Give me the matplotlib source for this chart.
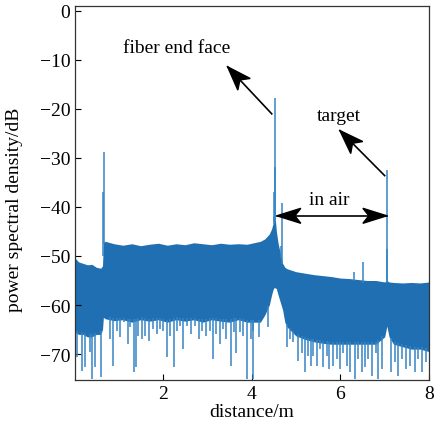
import numpy as np
import matplotlib
matplotlib.use("Agg")
import matplotlib.pyplot as plt
from matplotlib.patches import Polygon
from matplotlib.transforms import IdentityTransform

plt.rcParams['font.family'] = ['Liberation Serif', 'DejaVu Serif']
fontsize = 14

# envelope of the dense noise band (distance in m, level in dB)
band_x = [0.02, 0.1, 0.2, 0.3, 0.4, 0.5, 0.6, 0.64,
          0.66, 0.7, 0.9, 1.1, 1.3, 1.5, 1.7, 1.9,
          2.1, 2.3, 2.5, 2.7, 2.9, 3.1, 3.3, 3.5,
          3.7, 3.9, 4.1, 4.2, 4.3, 4.4, 4.45, 4.48,
          4.5, 4.52, 4.54, 4.56, 4.6, 4.65, 4.7, 4.75,
          4.8, 5.0, 5.2, 5.4, 5.6, 5.8, 6.0, 6.2,
          6.4, 6.6, 6.8, 7.0, 7.05, 7.1, 7.2, 7.4,
          7.6, 7.8, 8.0]
band_top = [-50.4, -51.2, -51.5, -51.8, -51.7, -52.3, -52.5, -52.0,
            -47.2, -47.0, -47.5, -47.8, -47.5, -47.9, -47.6, -47.4,
            -47.8, -47.5, -47.7, -47.3, -47.5, -47.7, -47.4, -47.6,
            -47.5, -47.6, -47.2, -47.0, -46.5, -45.5, -44.5, -43.5,
            -43.0, -42.0, -43.0, -45.0, -47.5, -49.5, -51.5, -52.3,
            -52.6, -53.2, -53.5, -53.8, -54.0, -54.2, -54.5, -54.6,
            -54.8, -55.0, -55.0, -55.3, -55.0, -55.3, -55.4, -55.5,
            -55.4, -55.5, -55.3]
band_low = [-65.5, -66.0, -66.0, -66.5, -66.5, -66.0, -66.0, -65.0,
            -62.5, -62.8, -63.2, -63.0, -63.5, -63.0, -63.3, -63.0,
            -63.5, -63.0, -63.3, -63.0, -63.5, -63.0, -63.3, -63.5,
            -63.0, -63.5, -63.5, -63.5, -62.0, -60.0, -58.0, -57.0,
            -56.5, -56.5, -56.5, -56.7, -58.0, -59.5, -61.0, -63.5,
            -64.5, -66.3, -67.0, -67.5, -67.8, -68.0, -68.0, -68.0,
            -68.0, -68.0, -68.0, -66.5, -64.3, -66.5, -68.0, -68.5,
            -69.0, -69.0, -69.5]

# downward spikes below the band
dip_x = [0.056, 0.169, 0.243, 0.356, 0.408, 0.468, 0.604, 0.806, 0.881, 0.957,
         1.032, 1.122, 1.205, 1.257, 1.354, 1.392, 1.444, 1.520, 1.595, 1.685,
         1.782, 1.858, 1.932, 2.007, 2.097, 2.158, 2.248, 2.309, 2.383, 2.457,
         2.534, 2.646, 2.721, 2.811, 2.872, 2.962, 3.059, 3.133, 3.209, 3.284,
         3.358, 3.435, 3.532, 3.606, 3.660, 3.734, 3.809, 3.899, 3.982, 4.034,
         4.043, 4.169, 4.365, 4.793, 4.867, 4.944, 5.056, 5.131, 5.205, 5.282,
         5.340, 5.394, 5.468, 5.543, 5.619, 5.694, 5.745, 5.845, 5.919, 5.993,
         6.070, 6.144, 6.218, 6.331, 6.408, 6.482, 6.556, 6.633, 6.707, 6.797,
         6.858, 6.948, 7.142, 7.232, 7.309, 7.399, 7.473, 7.570, 7.682, 7.759,
         7.849, 7.923]
dip_y = [-70.6, -73.4, -72.7, -69.6, -75.1, -72.7, -74.7, -66.9, -72.4, -65.2,
         -66.5, -63.5, -68.0, -64.5, -73.7, -72.7, -66.3, -66.9, -66.3, -67.3,
         -64.9, -65.9, -64.9, -65.2, -70.7, -66.3, -72.7, -65.2, -64.2, -69.0,
         -64.2, -65.9, -64.2, -66.9, -65.2, -66.3, -65.2, -71.0, -65.9, -68.0,
         -64.9, -66.9, -72.4, -65.6, -69.7, -65.6, -66.3, -75.1, -66.9, -75.1,
         -65.2, -66.6, -64.5, -68.6, -66.9, -67.6, -71.4, -69.7, -73.7, -70.3,
         -72.4, -70.3, -72.4, -69.0, -72.7, -70.3, -73.0, -72.4, -71.0, -73.0,
         -69.7, -72.4, -73.7, -75.1, -71.0, -73.7, -72.7, -71.0, -74.4, -69.7,
         -75.1, -73.0, -73.7, -71.7, -74.4, -71.0, -73.0, -72.4, -73.7, -71.0,
         -73.7, -71.7]

# reflection peaks
peak_x = [0.65, 0.67, 4.50, 4.51, 4.52, 4.53, 4.66, 4.69, 6.30, 6.51, 7.05, 7.06]
peak_y = [-37.0, -28.8, -37.0, -42.0, -17.8, -31.8, -48.0, -39.2, -53.3, -51.3, -32.4, -48.6]

blue = '#1f6fb2'
light = '#3585c5'

fig = plt.figure(figsize=(4.34, 4.27), dpi=100)
ax = fig.add_axes([0.1728, 0.1077, 0.8157, 0.8759])

ax.fill_between(band_x, band_low, band_top, color=blue, lw=0)
base = np.interp(dip_x, band_x, band_low) + 0.5
ax.vlines(dip_x, dip_y, base, color=light, lw=1.1)
pbase = np.interp(peak_x, band_x, band_top) - 0.5
ax.vlines(peak_x, pbase, peak_y, color=light, lw=1.1)

ax.set_xlim(0.02, 8)
ax.set_ylim(-75.3, 1)
ax.set_xticks([2, 4, 6, 8])
ax.set_yticks([0, -10, -20, -30, -40, -50, -60, -70])
ax.set_yticklabels(['0', '\u221210', '\u221220', '\u221230', '\u221240', '\u221250',
                    '\u221260', '\u221270'])
ax.tick_params(direction='in', length=4, width=0.8, labelsize=fontsize,
               top=False, right=False)
for s in ax.spines.values():
    s.set_color('#333333')
    s.set_linewidth(0.9)

ax.set_xlabel('distance/m', fontsize=fontsize, labelpad=1)
ax.set_ylabel('power spectral density/dB', fontsize=fontsize)
ax.yaxis.set_label_coords(-0.148, 0.457)


def arrow(tip, tail, both=False, length=24, width=17, notch=6):
    # shaft plus matlab-like notched heads, sized in pixels
    ax.plot([tip[0], tail[0]], [tip[1], tail[1]], color='black', lw=1.2)
    ends = [(tip, tail), (tail, tip)] if both else [(tip, tail)]
    for a, b in ends:
        pa = ax.transData.transform(a)
        pb = ax.transData.transform(b)
        d = (pb - pa) / np.hypot(*(pb - pa))
        n = np.array([-d[1], d[0]])
        pts = [pa, pa + d * length + n * width / 2, pa + d * (length - notch),
               pa + d * length - n * width / 2]
        fig.add_artist(Polygon(pts, closed=True, color='black',
                               transform=IdentityTransform()))


arrow((3.46, -11.4), (4.455, -21.0))
arrow((5.99, -24.4), (7.0, -33.6))
arrow((4.57, -41.8), (7.05, -41.8), both=True, width=15)

ax.text(2.30, -7.55, 'fiber end face', fontsize=fontsize, ha='center', va='center')
ax.text(5.97, -21.4, 'target', fontsize=fontsize, ha='center', va='center')
ax.text(5.75, -38.4, 'in air', fontsize=fontsize, ha='center', va='center')

plt.savefig('out.png', dpi=100)
